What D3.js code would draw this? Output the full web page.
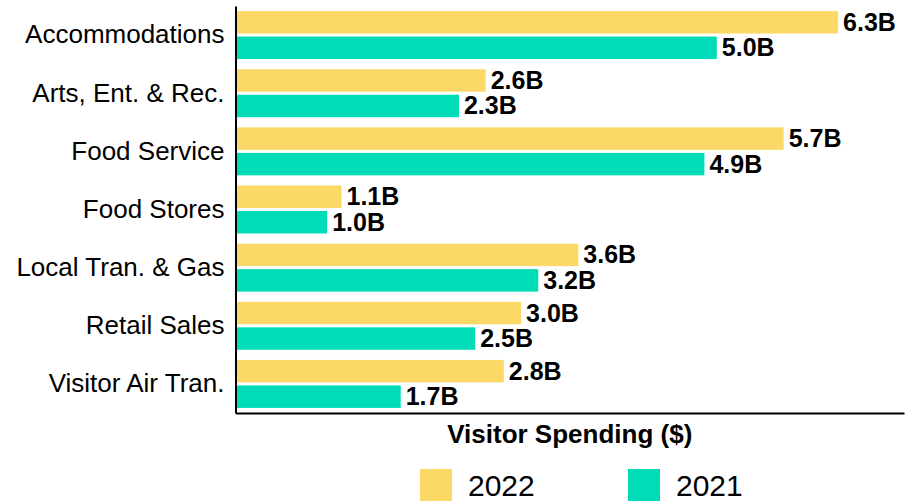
<!DOCTYPE html>
<html>
<head>
<meta charset="utf-8">
<script src="https://cdn.jsdelivr.net/npm/d3@7"></script>
<style>
  html, body { margin: 0; padding: 0; background: #fff; }
  svg { display: block; font-family: "Liberation Sans", Arial, sans-serif; }
</style>
</head>
<body>
<svg id="chart" width="905" height="504"></svg>
<script>
const categories = ["Accommodations", "Arts, Ent. & Rec.", "Food Service", "Food Stores", "Local Tran. & Gas", "Retail Sales", "Visitor Air Tran."];
const seriesNames = ["2022", "2021"];
const values2022 = [6.31, 2.62, 5.74, 1.11, 3.59, 2.99, 2.81];
const values2021 = [5.04, 2.34, 4.91, 0.96, 3.17, 2.51, 1.73];
const colors = ["#FCD966", "#00DCB8"];
const axisTitle = "Visitor Spending ($)";

const svg = d3.select("#chart");
const plotLeft = 235.5, plotRight = 904, plotTop = 6, plotBottom = 413;

const x = d3.scaleLinear().domain([0, 7]).range([plotLeft, plotRight]);
const y = d3.scaleBand().domain(categories).range([plotTop, plotBottom]).paddingInner(0.175).paddingOuter(0.0875);
const ySub = d3.scaleBand().domain(seriesNames).range([0, y.bandwidth()]).paddingInner(0.12);

const data = categories.map((c, i) => ({ cat: c, vals: [values2022[i], values2021[i]] }));

const g = svg.append("g");
const groups = g.selectAll("g.cat").data(data).join("g")
  .attr("class", "cat")
  .attr("transform", d => `translate(0,${y(d.cat)})`);

groups.selectAll("rect").data(d => d.vals.map((v, j) => ({ v, s: seriesNames[j], j })))
  .join("rect")
  .attr("x", x(0))
  .attr("y", d => ySub(d.s))
  .attr("width", d => x(d.v) - x(0))
  .attr("height", ySub.bandwidth())
  .attr("fill", d => colors[d.j]);

groups.selectAll("text.val").data(d => d.vals.map((v, j) => ({ v, s: seriesNames[j] })))
  .join("text")
  .attr("class", "val")
  .attr("x", d => x(d.v) + 5)
  .attr("y", d => ySub(d.s) + ySub.bandwidth() / 2)
  .attr("dy", "0.34em")
  .attr("font-size", 25)
  .attr("font-weight", "bold")
  .attr("fill", "#000")
  .text(d => d.v.toFixed(1) + "B");

// Y axis (category labels)
const yAxis = d3.axisLeft(y).tickSize(0).tickPadding(11);
const yg = svg.append("g").attr("transform", `translate(${plotLeft},0)`).call(yAxis);
yg.select(".domain").attr("stroke", "#000").attr("stroke-width", 2);
yg.selectAll("text").attr("font-size", 26).attr("font-family", "Liberation Sans, Arial, sans-serif").attr("fill", "#000");

// X axis (no ticks)
const xAxis = d3.axisBottom(x).tickValues([]).tickSizeOuter(0);
const xg = svg.append("g").attr("transform", `translate(0,${plotBottom})`).call(xAxis);
xg.select(".domain").attr("stroke", "#000").attr("stroke-width", 2);

svg.append("text")
  .attr("x", (plotLeft + plotRight) / 2)
  .attr("y", 443)
  .attr("text-anchor", "middle")
  .attr("font-size", 26)
  .attr("font-weight", "bold")
  .text(axisTitle);

// Legend
const legendX = [420, 628];
const lg = svg.selectAll("g.legend").data(seriesNames).join("g")
  .attr("class", "legend")
  .attr("transform", (d, i) => `translate(${legendX[i]},469)`);
lg.append("rect").attr("width", 32).attr("height", 32).attr("fill", (d, i) => colors[i]);
lg.append("text").attr("x", 48).attr("y", 27).attr("font-size", 30).attr("fill", "#000").text(d => d);
</script>
</body>
</html>
